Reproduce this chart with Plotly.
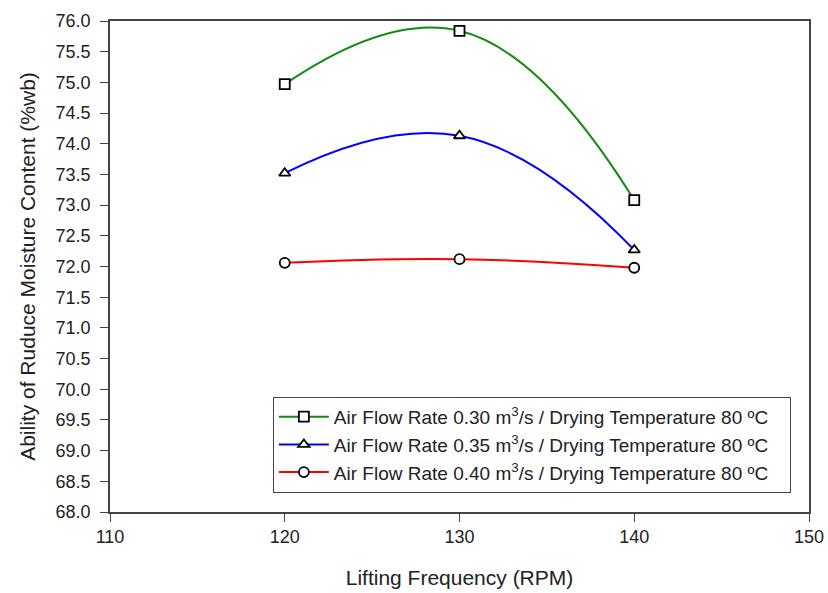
import plotly.graph_objects as go

rpm = [120, 130, 140]
flow_030 = [74.97, 75.84, 73.08]
flow_035 = [73.52, 74.13, 72.27]
flow_040 = [72.06, 72.12, 71.98]

names = [
    "Air Flow Rate 0.30 m<sup>3</sup>/s / Drying Temperature 80 ºC",
    "Air Flow Rate 0.35 m<sup>3</sup>/s / Drying Temperature 80 ºC",
    "Air Flow Rate 0.40 m<sup>3</sup>/s / Drying Temperature 80 ºC",
]
series = [flow_030, flow_035, flow_040]
colors = ["#138a13", "#0000ff", "#ff0000"]
symbols = ["square", "triangle-up", "circle"]

fig = go.Figure()
for name, vals, col, sym in zip(names, series, colors, symbols):
    fig.add_trace(go.Scatter(
        x=rpm, y=vals, name=name + "\u00a0" * 3, mode="lines+markers",
        line=dict(color=col, width=2, shape="spline", smoothing=1.3),
        marker=dict(symbol=sym, size=10, color="white",
                    line=dict(color="black", width=1.8)),
    ))

font = "Liberation Sans, Arial, sans-serif"
fig.update_layout(
    width=828, height=593,
    margin=dict(l=110, r=19, t=21, b=81),
    paper_bgcolor="white", plot_bgcolor="white",
    font=dict(family=font, size=18, color="#222"),
    showlegend=True,
    legend=dict(
        x=0.233, y=0.039, xanchor="left", yanchor="bottom",
        bgcolor="white", bordercolor="#444", borderwidth=1,
        font=dict(size=19, color="#222"),
        tracegroupgap=0, itemwidth=50,
    ),
    xaxis=dict(
        range=[110, 150], tickmode="array", tickvals=[110, 120, 130, 140, 150],
        ticks="outside", ticklen=8, tickcolor="#444", showgrid=False, zeroline=False,
        showline=True, linecolor="#444", linewidth=1.5, mirror=True, automargin=False,
        title=dict(text="Lifting Frequency (RPM)", font=dict(size=21), standoff=24),
    ),
    yaxis=dict(
        range=[68, 76], tickmode="array",
        tickvals=[68 + 0.5 * i for i in range(17)],
        ticktext=["%.1f" % (68 + 0.5 * i) for i in range(17)],
        ticks="outside", ticklen=8, tickcolor="#444", showgrid=False, zeroline=False,
        showline=True, linecolor="#444", linewidth=1.5, mirror=True, automargin=False,
        ticklabelstandoff=6,
        title=dict(text="Ability of Ruduce Moisture Content (%wb)", font=dict(size=21), standoff=14),
    ),
)

fig.write_html("out.html", config={"displayModeBar": False},
               post_script="document.body.style.margin='0';document.body.style.overflow='hidden';")
